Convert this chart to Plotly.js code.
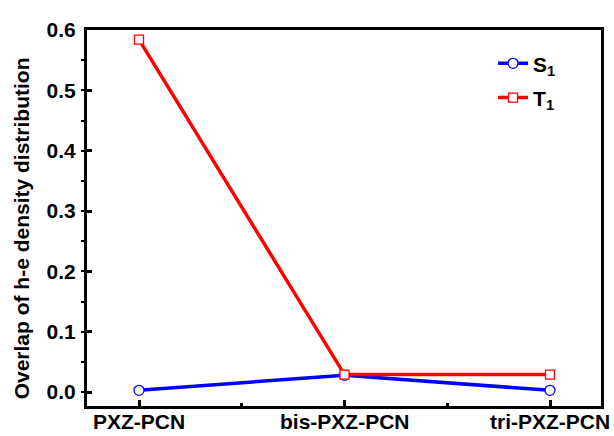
<!DOCTYPE html>
<html><head><meta charset="utf-8">
<script src="https://cdn.plot.ly/plotly-3.0.1.min.js"></script>
<style>html,body{margin:0;padding:0;background:#fff}</style>
</head><body>
<div id="chart" style="width:614px;height:436px"></div>
<script>
const categories = ["PXZ-PCN", "bis-PXZ-PCN", "tri-PXZ-PCN"];
const s1Values = [0.003, 0.028, 0.003];
const t1Values = [0.584, 0.029, 0.029];
const yTicks = [0.0, 0.1, 0.2, 0.3, 0.4, 0.5, 0.6];
const yTickLabels = ["0.0", "0.1", "0.2", "0.3", "0.4", "0.5", "0.6"];
const yTitle = "Overlap of h-e density distribution";

const xIdx = categories.map((c, i) => i);
const fam = "Liberation Sans, Arial, sans-serif";

const traces = [
  {x: xIdx, y: s1Values, name: "S<sub>1</sub>", mode: "lines+markers", legendgroup: "a",
   line: {color: "#0000ff", width: 3.5},
   marker: {symbol: "circle", size: 10, color: "#ffffff", line: {width: 1.3, color: "#0000ff"}}},
  {x: xIdx, y: t1Values, name: "T<sub>1</sub>", mode: "lines+markers", legendgroup: "b",
   line: {color: "#ff0000", width: 3.5},
   marker: {symbol: "square", size: 9, color: "#ffffff", line: {width: 1.3, color: "#ff0000"}}}
];

const xLabelAnnots = categories.map((c, i) => ({
  text: c, xref: "x", yref: "paper", x: xIdx[i], y: -0.04,
  xanchor: "center", yanchor: "middle", showarrow: false,
  font: {family: fam, size: 21, color: "#000", weight: "bold"}
}));

const layout = {
  width: 614, height: 436,
  margin: {l: 87, r: 13, t: 30, b: 30},
  paper_bgcolor: "#fff", plot_bgcolor: "#fff",
  showlegend: true,
  legend: {x: 0.79, y: 0.965, xanchor: "left", yanchor: "top", bgcolor: "rgba(0,0,0,0)",
           font: {family: fam, size: 21, color: "#000", weight: "bold"},
           tracegroupgap: 4},
  xaxis: {
    range: [-0.253, 2.248], tickvals: xIdx, showticklabels: false,
    showgrid: false, zeroline: false, showline: true, linewidth: 3, linecolor: "#000",
    mirror: true, ticks: "inside", ticklen: 6, tickwidth: 3, tickcolor: "#000",
    minor: {tickvals: [0.5, 1.5], ticks: "inside", ticklen: 3, tickwidth: 3, tickcolor: "#000"}
  },
  yaxis: {
    range: [-0.023, 0.6], tickvals: yTicks, ticktext: yTickLabels,
    showgrid: false, zeroline: false, showline: true, linewidth: 3, linecolor: "#000",
    mirror: true, ticks: "inside", ticklen: 5, tickwidth: 3, tickcolor: "#000",
    ticklabelstandoff: 4,
    minor: {dtick: 0.05, ticks: "outside", ticklen: 3, tickwidth: 2, tickcolor: "#000"},
    tickfont: {family: fam, size: 21, color: "#000", weight: "bold"}
  },
  annotations: [{
    text: yTitle, xref: "paper", yref: "paper", x: -0.128, y: 0.473,
    xanchor: "center", yanchor: "middle", textangle: -90, showarrow: false,
    font: {family: fam, size: 21, color: "#000", weight: "bold"}
  }].concat(xLabelAnnots)
};

Plotly.newPlot("chart", traces, layout, {displayModeBar: false, staticPlot: true});
</script>
</body></html>
